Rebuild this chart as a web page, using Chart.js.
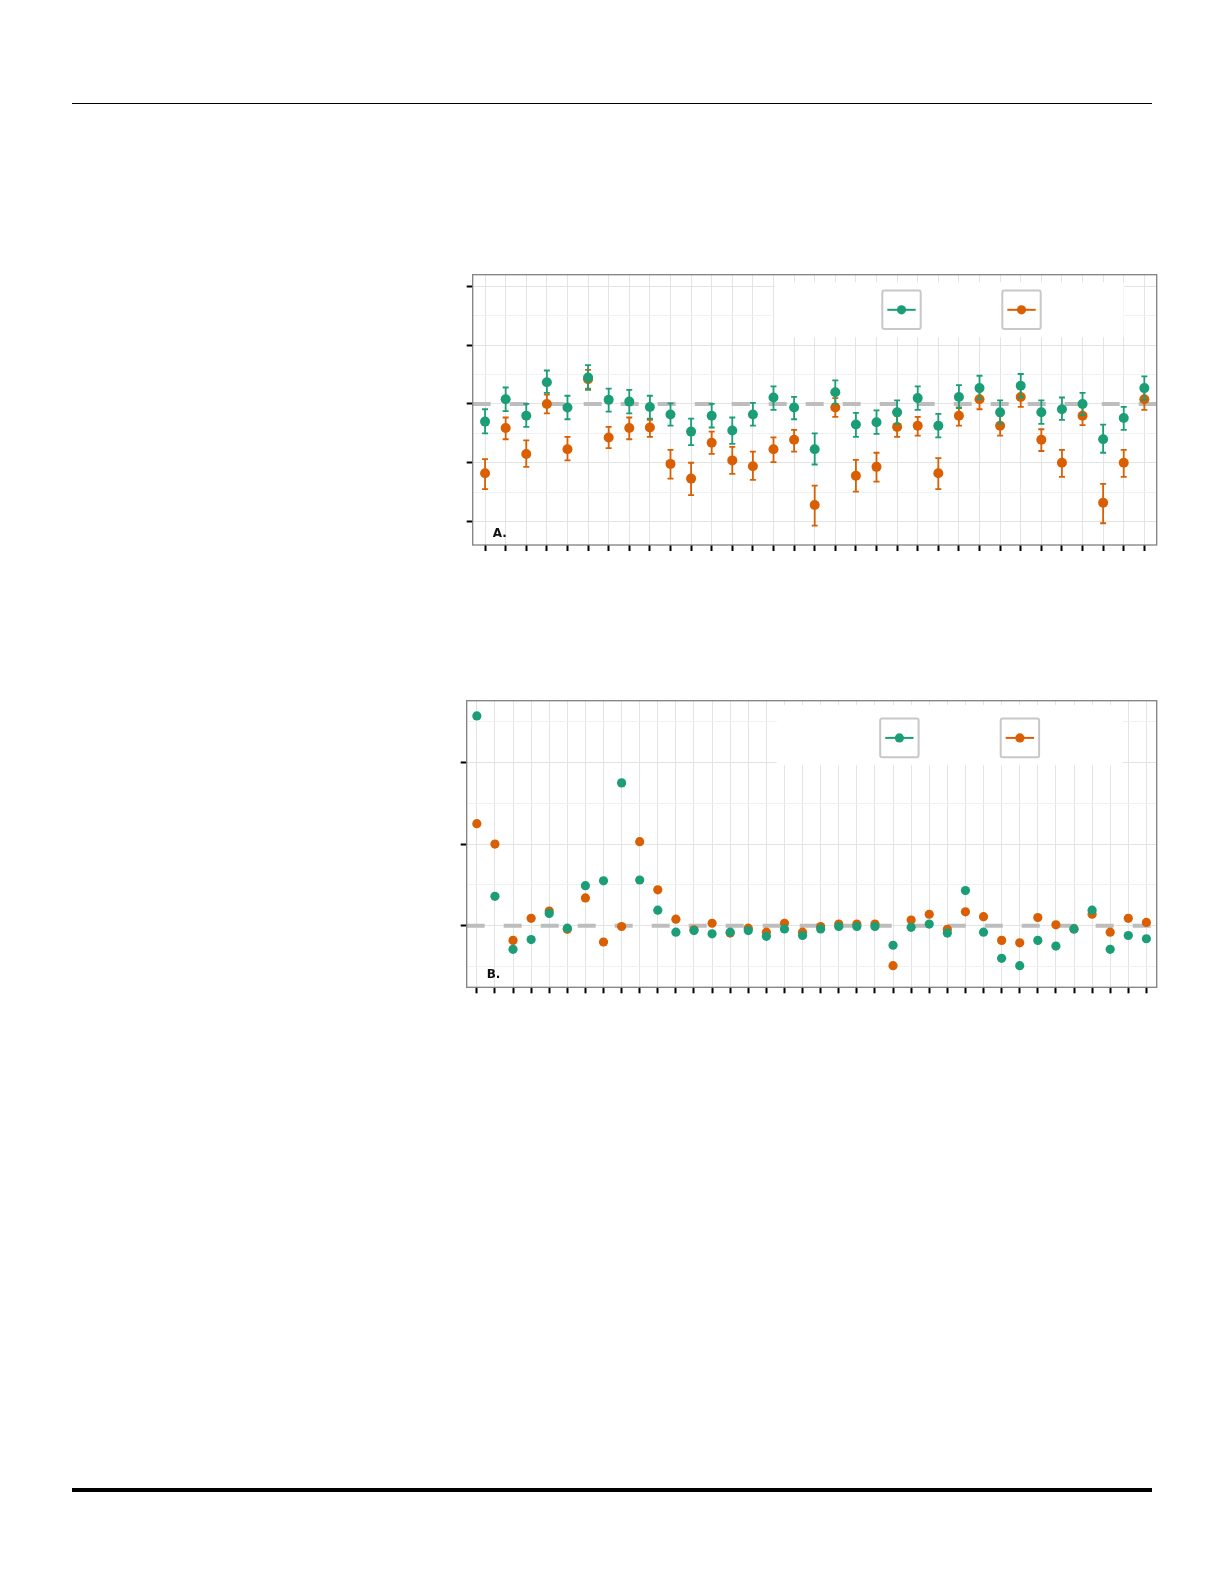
<!DOCTYPE html>
<html>
<head>
<meta charset="utf-8">
<script src="https://cdn.jsdelivr.net/npm/chart.js@4.4.1/dist/chart.umd.min.js"></script>
<style>
  html, body { margin: 0; padding: 0; background: #ffffff; }
  body { width: 1225px; height: 1585px; position: relative; overflow: hidden; font-family: "DejaVu Sans", sans-serif; }
  .rule-top { position: absolute; left: 72px; top: 103px; width: 1080px; height: 1px; background: #000; }
  .rule-bottom { position: absolute; left: 72px; top: 1488px; width: 1080px; height: 4px; background: #000; }
  .panel { position: absolute; }
</style>
</head>
<body>
<div class="rule-top"></div>
<div class="rule-bottom"></div>
<div class="panel" style="left:430px; top:260px;"><canvas id="chartA" width="740" height="300"></canvas></div>
<div class="panel" style="left:430px; top:680px;"><canvas id="chartB" width="740" height="330"></canvas></div>
<script>
// ---------------- Panel A data ----------------
const categoriesA = ["1","2","3","4","5","6","7","8","9","10","11","12","13","14","15","16","17",
  "18","19","20","21","22","23","24","25","26","27","28","29","30","31","32","33"];
const greenA     = [-0.30, 0.08,-0.20, 0.37,-0.06, 0.45, 0.07, 0.04,-0.05,-0.18,-0.47,-0.20,-0.45,-0.18, 0.11,-0.06,-0.77,
                     0.20,-0.35,-0.31,-0.14, 0.10,-0.37, 0.12, 0.27,-0.14, 0.31,-0.14,-0.09, 0.00,-0.60,-0.24, 0.27];
const greenAHigh = [-0.09, 0.28, 0.00, 0.57, 0.14, 0.66, 0.26, 0.24, 0.14, 0.01,-0.25, 0.00,-0.23, 0.02, 0.30, 0.12,-0.50,
                     0.40,-0.15,-0.11, 0.06, 0.30,-0.17, 0.32, 0.48, 0.06, 0.51, 0.06, 0.11, 0.19,-0.35,-0.05, 0.47];
const greenALow  = [-0.50,-0.12,-0.39, 0.19,-0.26, 0.24,-0.13,-0.16,-0.25,-0.37,-0.70,-0.40,-0.68,-0.37,-0.10,-0.26,-1.03,
                     0.00,-0.56,-0.51,-0.34,-0.10,-0.57,-0.07, 0.08,-0.34, 0.11,-0.34,-0.27,-0.19,-0.83,-0.44, 0.07];
const orangeA     = [-1.18,-0.41,-0.85, 0.00,-0.77, 0.42,-0.57,-0.41,-0.40,-1.02,-1.27,-0.66,-0.96,-1.06,-0.77,-0.61,-1.72,
                     -0.06,-1.22,-1.07,-0.39,-0.37,-1.18,-0.20, 0.08,-0.37, 0.12,-0.61,-1.00,-0.20,-1.68,-1.00, 0.08];
const orangeAHigh = [-0.94,-0.23,-0.62, 0.16,-0.56, 0.58,-0.39,-0.23,-0.27,-0.78,-1.00,-0.47,-0.73,-0.81,-0.57,-0.44,-1.39,
                      0.10,-0.95,-0.83,-0.20,-0.22,-0.92,-0.06, 0.24,-0.20, 0.30,-0.43,-0.78,-0.05,-1.36,-0.78, 0.24];
const orangeALow  = [-1.45,-0.60,-1.07,-0.16,-0.96, 0.26,-0.75,-0.60,-0.56,-1.27,-1.55,-0.85,-1.19,-1.29,-0.99,-0.81,-2.07,
                     -0.22,-1.49,-1.32,-0.56,-0.54,-1.45,-0.37,-0.09,-0.54,-0.05,-0.80,-1.24,-0.36,-2.03,-1.24,-0.10];
const yTicksA = [-2, -1.5, -1, -0.5, 0, 0.5, 1, 1.5, 2];
const yMajorA = [-2, -1, 0, 1, 2];

// ---------------- Panel B data ----------------
const categoriesB = ["1","2","3","4","5","6","7","8","9","10","11","12","13","14","15","16","17","18","19",
  "20","21","22","23","24","25","26","27","28","29","30","31","32","33","34","35","36","37","38"];
const greenB  = [2.57, 0.36,-0.29,-0.17, 0.15,-0.03, 0.49, 0.55, 1.75, 0.56, 0.19,-0.08,-0.06,-0.10,-0.08,-0.06,-0.13,-0.04,-0.12,
                 -0.04,-0.01,-0.01,-0.01,-0.24,-0.02, 0.02,-0.09, 0.43,-0.08,-0.40,-0.49,-0.18,-0.25,-0.04, 0.19,-0.29,-0.12,-0.16];
const orangeB = [1.25, 1.00,-0.18, 0.09, 0.18,-0.045, 0.34,-0.20,-0.01, 1.03, 0.44, 0.08,-0.05, 0.03,-0.09,-0.03,-0.08, 0.03,-0.08,
                 -0.01, 0.02, 0.02, 0.02,-0.49, 0.07, 0.14,-0.045, 0.17, 0.11,-0.18,-0.21, 0.10, 0.01,-0.04, 0.14,-0.08, 0.09, 0.04];
const yTicksB = [-0.5, 0, 0.5, 1, 1.5, 2, 2.5];
const yMajorB = [0, 1, 2];

const GREEN = '#1b9e77';
const ORANGE = '#d95f02';

// Error bars (drawn from the dataset's own arrays through the scales)
const errorBarPlugin = {
  id: 'errorBars',
  beforeDatasetDraw(chart, args) {
    const ds = chart.data.datasets[args.index];
    if (!ds.errHigh) return;
    const xs = chart.scales.x, ys = chart.scales.y, ctx = chart.ctx;
    ctx.save();
    ctx.strokeStyle = ds.backgroundColor;
    ctx.lineWidth = 1.8;
    ds.data.forEach((p, i) => {
      const x = xs.getPixelForValue(p.x);
      const yh = ys.getPixelForValue(ds.errHigh[i]);
      const yl = ys.getPixelForValue(ds.errLow[i]);
      ctx.beginPath();
      ctx.moveTo(x, yh); ctx.lineTo(x, yl);
      ctx.moveTo(x - 3, yh); ctx.lineTo(x + 3, yh);
      ctx.moveTo(x - 3, yl); ctx.lineTo(x + 3, yl);
      ctx.stroke();
    });
    ctx.restore();
  }
};

// Legend box (inside plot) + panel letter + frame
const decorPlugin = {
  id: 'decor',
  beforeDatasetsDraw(chart, args, opts) {
    const ctx = chart.ctx, a = chart.chartArea;
    ctx.save();
    ctx.fillStyle = '#ffffff';
    ctx.fillRect(a.left + opts.bg[0], a.top + opts.bg[1], opts.bg[2], opts.bg[3]);
    opts.keys.forEach((k) => {
      const bx = a.left + k.dx, by = a.top + opts.boxY;
      ctx.strokeStyle = '#c8c8c8';
      ctx.lineWidth = 2;
      ctx.beginPath();
      if (ctx.roundRect) ctx.roundRect(bx, by, opts.boxW, opts.boxH, 2); else ctx.rect(bx, by, opts.boxW, opts.boxH);
      ctx.stroke();
      const cy = by + opts.boxH / 2;
      ctx.strokeStyle = k.color;
      ctx.lineWidth = 2;
      ctx.beginPath();
      ctx.moveTo(bx + 5, cy); ctx.lineTo(bx + opts.boxW - 5, cy);
      ctx.stroke();
      ctx.fillStyle = k.color;
      ctx.beginPath();
      ctx.arc(bx + opts.boxW / 2, cy, 4.6, 0, Math.PI * 2);
      ctx.fill();
    });
    ctx.restore();
  },
  afterDraw(chart, args, opts) {
    const ctx = chart.ctx, a = chart.chartArea;
    ctx.save();
    ctx.fillStyle = '#111';
    ctx.font = 'bold 12px "DejaVu Sans"';
    ctx.textBaseline = 'alphabetic';
    ctx.fillText(opts.letter, a.left + 20, a.bottom - opts.letterUp);
    ctx.strokeStyle = '#808080';
    ctx.lineWidth = 1.3;
    ctx.strokeRect(a.left, a.top, a.right - a.left, a.bottom - a.top);
    ctx.restore();
  }
};

function makeChart(id, cfg) {
  const xMin = cfg.xMin, xMax = cfg.xMax;
  const datasets = [
    {
      type: 'line',
      data: [{x: xMin, y: 0}, {x: xMax, y: 0}],
      borderColor: '#bdbdbd', borderWidth: 4, borderDash: [18, 19],
      pointRadius: 0, order: 5, fill: false
    },
    {
      type: 'scatter',
      data: cfg.orange.map((v, i) => ({x: i, y: v})),
      errHigh: cfg.orangeHigh, errLow: cfg.orangeLow,
      backgroundColor: ORANGE, borderWidth: 0, pointRadius: cfg.r, pointHoverRadius: cfg.r, order: 2
    },
    {
      type: 'scatter',
      data: cfg.green.map((v, i) => ({x: i, y: v})),
      errHigh: cfg.greenHigh, errLow: cfg.greenLow,
      backgroundColor: GREEN, borderWidth: 0, pointRadius: cfg.r, pointHoverRadius: cfg.r, order: 1
    }
  ];
  return new Chart(document.getElementById(id), {
    type: 'scatter',
    data: { labels: cfg.categories, datasets },
    options: {
      responsive: false, animation: false, devicePixelRatio: 1,
      layout: { padding: cfg.padding },
      plugins: { legend: { display: false }, tooltip: { enabled: false }, decor: cfg.decor },
      events: [],
      scales: {
        x: {
          type: 'linear', min: xMin, max: xMax,
          afterBuildTicks: (s) => { s.ticks = cfg.categories.map((c, i) => ({value: i})); },
          afterFit: (s) => { s.height = cfg.xAxisH; },
          ticks: { display: false },
          border: { display: false },
          grid: { color: '#e4e4e4', lineWidth: 1, tickColor: '#000', tickWidth: 2, tickLength: 6, drawTicks: true }
        },
        y: {
          type: 'linear', min: cfg.yMin, max: cfg.yMax,
          afterBuildTicks: (s) => { s.ticks = cfg.yTicks.map(v => ({value: v})); },
          afterFit: (s) => { s.width = cfg.yAxisW; },
          ticks: { display: false },
          border: { display: false },
          grid: {
            color: (c) => (c.tick && cfg.yMajor.includes(c.tick.value)) ? '#e4e4e4' : '#f1f1f1',
            tickColor: (c) => (c.tick && cfg.yMajor.includes(c.tick.value)) ? '#000' : 'rgba(0,0,0,0)',
            lineWidth: 1, tickWidth: 2, tickLength: 6, drawTicks: true
          }
        }
      }
    },
    plugins: [errorBarPlugin, decorPlugin]
  });
}

makeChart('chartA', {
  categories: categoriesA, green: greenA, greenHigh: greenAHigh, greenLow: greenALow,
  orange: orangeA, orangeHigh: orangeAHigh, orangeLow: orangeALow,
  xMin: -0.6, xMax: 32.6, yMin: -2.4, yMax: 2.2, yTicks: yTicksA, yMajor: yMajorA, r: 5,
  padding: { left: 0, top: 14.7, right: 13.3, bottom: 0 }, xAxisH: 15, yAxisW: 42.7,
  decor: { bg: [302, 7.5, 349, 55], boxY: 15.8, boxW: 38.4, boxH: 38.6,
           keys: [{dx: 409.6, color: GREEN}, {dx: 529.6, color: ORANGE}], letter: 'A.', letterUp: 8.3 }
});

makeChart('chartB', {
  categories: categoriesB, green: greenB, orange: orangeB,
  xMin: -0.56, xMax: 37.57, yMin: -0.755, yMax: 2.757, yTicks: yTicksB, yMajor: yMajorB, r: 4.6,
  padding: { left: 0, top: 20.7, right: 13.3, bottom: 0 }, xAxisH: 22.7, yAxisW: 36.7,
  decor: { bg: [310, 4.5, 346, 60], boxY: 17.8, boxW: 38.4, boxH: 38.8,
           keys: [{dx: 413.5, color: GREEN}, {dx: 534, color: ORANGE}], letter: 'B.', letterUp: 9 }
});
</script>
</body>
</html>
